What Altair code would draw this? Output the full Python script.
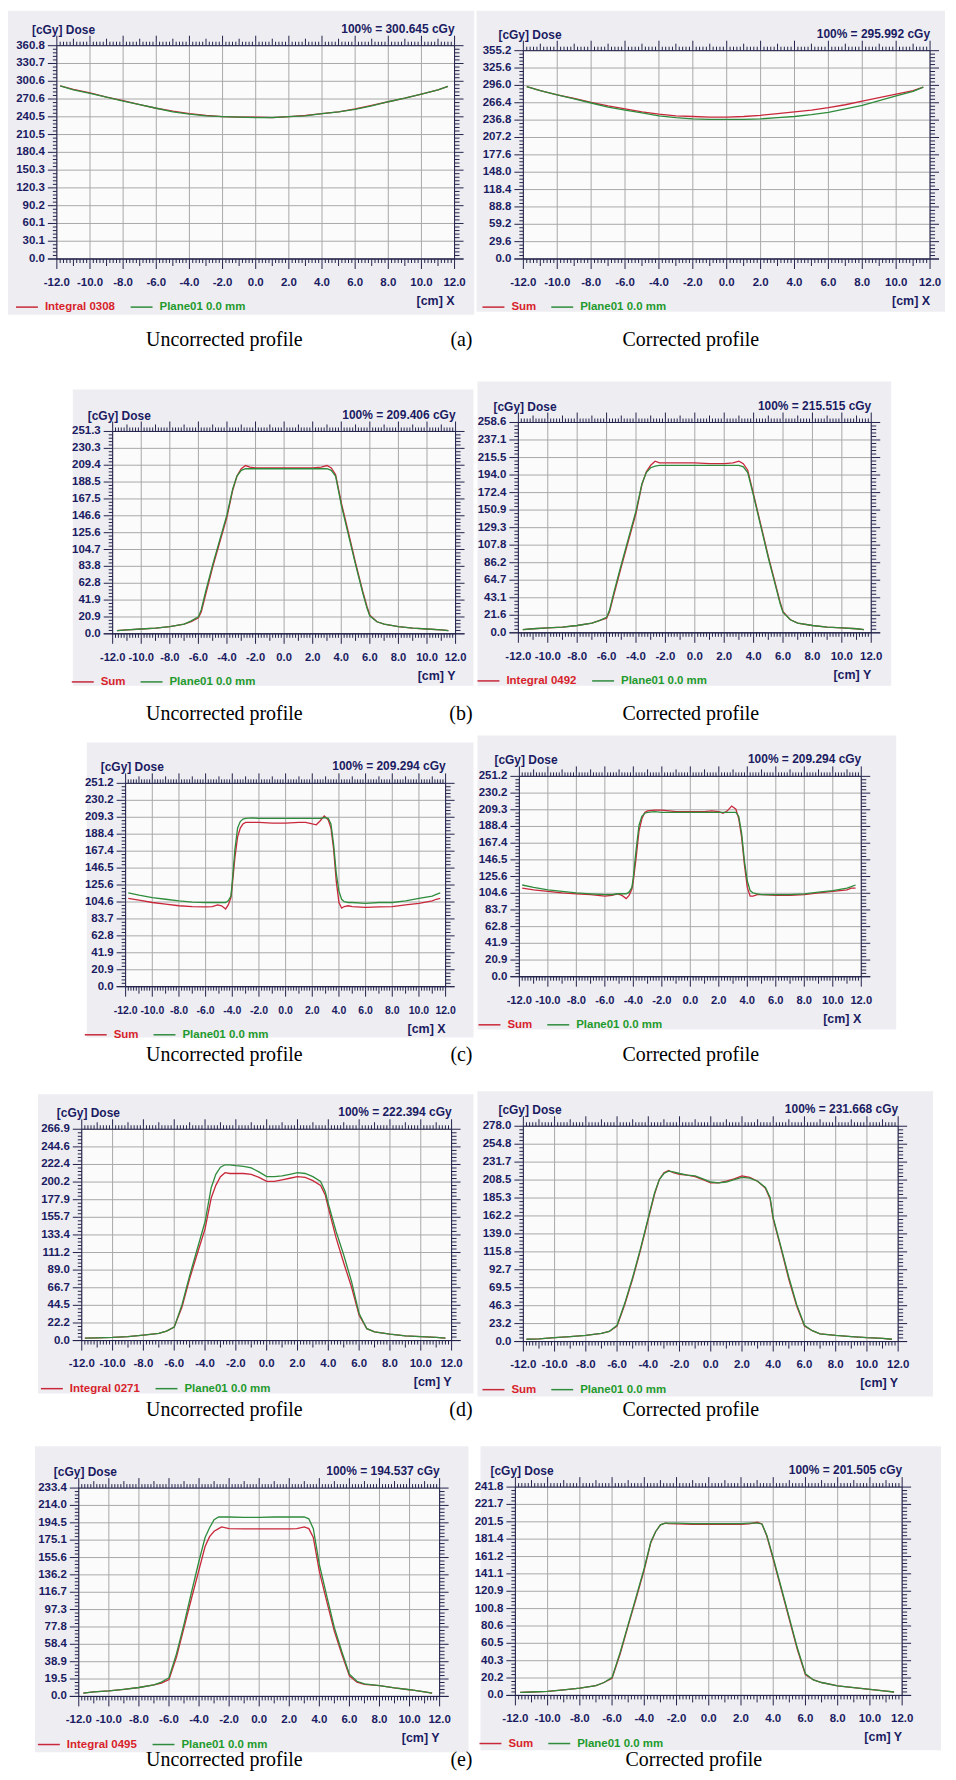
import altair as alt
import pandas as pd

# ------------------------------------------------------------------ data
x_major_ticks = [-12.0, -10.0, -8.0, -6.0, -4.0, -2.0, 0.0, 2.0, 4.0, 6.0, 8.0, 10.0, 12.0]
plane_series = "Plane01 0.0 mm"

# (a) beam X profile
a_x = [-11.8, -11, -10, -9, -8, -7, -6, -5, -4, -3, -2, -1, 0, 1, 2, 3, 4, 5, 6, 7, 8, 9, 10, 11, 11.6]
a_left_red = [293, 287, 281, 274, 268, 261, 255, 250, 246, 243, 241, 240, 240, 239, 241, 243, 246, 249, 254, 260, 266, 272, 279, 286, 292]
a_left_green = [293, 286, 280, 274, 267, 261, 255, 249, 245, 242, 241, 240, 239, 239, 241, 242, 246, 249, 253, 259, 266, 272, 279, 286, 292]
a_right_red = [294, 287, 280, 274, 267, 261, 256, 251, 247, 244, 243, 242, 242, 243, 245, 248, 251, 254, 258, 263, 269, 275, 281, 287, 293]
a_right_green = [294, 287, 280, 273, 266, 259, 254, 249, 244, 241, 239, 238, 238, 238, 239, 241, 243, 246, 250, 256, 262, 270, 278, 286, 293]
a_left_yticks = [0.0, 30.1, 60.1, 90.2, 120.3, 150.3, 180.4, 210.5, 240.5, 270.6, 300.6, 330.7, 360.8]
a_right_yticks = [0.0, 29.6, 59.2, 88.8, 118.4, 148.0, 177.6, 207.2, 236.8, 266.4, 296.0, 325.6, 355.2]

# (b)
b_x = [-11.7, -11, -10, -9, -8, -7, -6.5, -6, -5.8, -5.5, -5, -4.5, -4, -3.6, -3.3, -3.0, -2.7, -2.4, -2, -1,
       0, 1, 2, 2.6, 3.0, 3.3, 3.6, 4, 4.5, 5, 5.5, 5.8, 6, 6.5, 7, 8, 9, 10, 11, 11.5]
b_left_red = [4, 5, 6, 7, 9, 12, 15, 20, 27, 48, 83, 114, 145, 178, 196, 205, 209, 207, 206, 206,
              206, 206, 206, 207, 209, 206, 198, 163, 126, 88, 53, 34, 23, 15, 12, 9, 7, 6, 5, 4]
b_left_green = [4, 5, 6, 7, 9, 12, 16, 21, 30, 52, 86, 117, 148, 180, 196, 203, 205, 205, 205, 205,
                205, 205, 205, 205, 205, 203, 196, 160, 123, 86, 51, 32, 22, 15, 12, 9, 7, 6, 5, 4]
b_right_red = [4, 5, 6, 7, 9, 12, 15, 18, 26, 47, 81, 114, 147, 182, 198, 206, 211, 209, 209, 209,
               209, 208, 208, 209, 211, 208, 200, 170, 132, 94, 59, 38, 26, 16, 12, 9, 7, 6, 5, 4]
b_right_green = [4, 5, 6, 7, 9, 12, 15, 19, 28, 50, 84, 117, 150, 183, 197, 203, 205, 206, 206, 206,
                 206, 206, 206, 206, 206, 204, 197, 168, 130, 92, 57, 36, 25, 16, 12, 9, 7, 6, 5, 4]
b_left_yticks = [0.0, 20.9, 41.9, 62.8, 83.8, 104.7, 125.6, 146.6, 167.5, 188.5, 209.4, 230.3, 251.3]
b_right_yticks = [0.0, 21.6, 43.1, 64.7, 86.2, 107.8, 129.3, 150.9, 172.4, 194.0, 215.5, 237.1, 258.6]

# (c)
c_x = [-11.8, -11, -10, -9, -8, -7, -6, -5.5, -5.1, -4.8, -4.5, -4.3, -4.1, -4.0, -3.8, -3.6, -3.4, -3.2, -3.0, -2.5,
       -2, -1, 0, 1, 1.5, 2.0, 2.3, 2.6, 2.9, 3.2, 3.4, 3.6, 3.8, 4.0, 4.2, 4.4, 4.7, 5, 6, 7,
       8, 9, 10, 11, 11.3, 11.6]
c_left_red = [109, 107, 104, 102, 100, 99, 98.5, 99, 101, 100, 96, 101, 110, 125, 160, 185, 196, 201, 203, 203,
              203, 202, 202, 203, 203, 201, 200, 205, 211, 206, 196, 170, 130, 104, 97, 99, 100, 99, 98, 98.5,
              99, 101, 103, 106, 108, 109]
c_left_green = [116, 113, 110, 108, 106, 104.5, 104, 104, 104, 104, 104, 106, 112, 130, 170, 196, 204, 207, 208, 208.5,
                208, 208, 208, 208, 208, 208, 208, 208, 209, 208, 201, 176, 140, 118, 108, 105, 104, 104, 103, 104,
                104, 106, 109, 112, 114, 116]
c_right_red = [111, 109, 107, 105, 104, 103, 101, 102, 104, 102, 98, 102, 110, 120, 150, 183, 198, 206, 208, 209,
               209, 207, 207, 207, 208, 207, 205, 208, 214, 210, 198, 175, 140, 112, 101, 101, 103, 103, 102, 102,
               103, 105, 107, 109, 111, 111]
c_right_green = [115, 112, 109, 107, 105, 104, 103, 103, 104, 104, 104, 106, 112, 125, 160, 190, 201, 205, 206, 207,
                 206, 206, 206, 206, 206, 206, 206, 206, 206, 206, 201, 180, 145, 120, 108, 105, 104, 103, 103, 103,
                 104, 106, 108, 111, 113, 115]
c_yticks = [0.0, 20.9, 41.9, 62.8, 83.7, 104.6, 125.6, 146.5, 167.4, 188.4, 209.3, 230.2, 251.2]

# (d)
d_x = [-11.8, -11, -10, -9, -8, -7, -6.5, -6, -5.5, -5, -4.5, -4, -3.6, -3.3, -3.0, -2.7, -2.4, -2, -1.5, -1,
       -0.5, 0, 0.5, 1, 1.5, 2, 2.5, 3, 3.5, 3.8, 4, 4.5, 5, 5.5, 6, 6.5, 7, 8, 9, 10, 11, 11.6]
d_left_red = [3, 3.5, 4, 5, 7, 9, 12, 17, 42, 78, 110, 141, 180, 196, 207, 212, 211, 211, 211, 210,
              206, 201, 201, 203, 205, 207, 206, 202, 196, 184, 168, 130, 98, 68, 32, 15, 11, 8, 6, 5, 4, 3]
d_left_green = [3, 3.5, 4, 5, 7, 9, 12, 17, 45, 82, 116, 150, 193, 210, 219, 222, 222, 221, 220, 218,
                213, 207, 207, 208, 210, 212, 211, 207, 201, 188, 173, 138, 108, 75, 34, 15, 11, 8, 6, 5, 4, 3]
d_right_red = [3, 3.5, 5, 6.5, 8, 10.5, 13, 20, 48, 81, 118, 158, 190, 209, 218, 221, 218, 216, 215, 213,
               209, 205, 205, 207, 210, 214, 212, 207, 198, 184, 158, 120, 80, 46, 20, 14, 10, 8, 6.5, 5, 4, 3]
d_right_green = [3, 3.5, 5, 6.5, 8, 10.5, 13, 21, 50, 83, 120, 160, 192, 209, 217, 220, 219, 217, 215, 214,
                 210, 206, 205, 206, 209, 212, 211, 207, 199, 186, 160, 122, 83, 48, 21, 14, 10, 8, 6.5, 5, 4, 3]
d_left_yticks = [0.0, 22.2, 44.5, 66.7, 89.0, 111.2, 133.4, 155.7, 177.9, 200.2, 222.4, 244.6, 266.9]
d_right_yticks = [0.0, 23.2, 46.3, 69.5, 92.7, 115.8, 139.0, 162.2, 185.3, 208.5, 231.7, 254.8, 278.0]

# (e)
e_x = [-11.7, -11, -10, -9, -8, -7, -6.5, -6, -5.5, -5, -4.5, -4, -3.6, -3.3, -3.0, -2.7, -2.5, -2, -1, 0,
       1, 2, 2.5, 3.0, 3.3, 3.6, 4, 4.5, 5, 5.5, 6, 6.5, 7, 8, 9, 10, 11, 11.5]
e_left_red = [3.7, 5, 6.3, 8, 10, 13, 15, 19, 44, 77, 110, 142, 168, 179, 185, 188, 190, 188, 187.6, 187.6,
              187.6, 187.6, 188, 190, 188, 178, 140, 106, 73, 47, 23, 16, 13.5, 12, 9.5, 7.5, 5, 3.7]
e_left_green = [3.7, 5, 6.3, 8, 10, 13, 16, 21, 48, 81, 117, 152, 178, 189, 198, 201, 201, 201, 200.5, 200.5,
                201, 201, 201, 201, 199, 188, 148, 112, 77, 50, 25, 17, 14, 12, 9.5, 7.5, 5, 3.7]
e_right_red = [3.5, 4, 4.6, 6.5, 8.5, 11.5, 15, 20, 48, 81, 113, 146, 177, 190, 198, 200, 199.5, 199, 198.5, 198.5,
               198.5, 198.5, 199, 201, 199, 185, 158, 123, 88, 53, 24, 18, 15, 11, 9, 7, 5, 4]
e_right_green = [3.5, 4, 4.6, 6.5, 8.5, 11.5, 15, 21, 50, 82.5, 115, 148, 178, 190, 198, 200, 200, 200, 199.5, 199.5,
                 199.5, 199.5, 200, 200, 199, 186, 160, 125, 90, 55, 25, 18, 15, 11, 9, 7, 5, 4]
e_left_yticks = [0.0, 19.5, 38.9, 58.4, 77.8, 97.3, 116.7, 136.2, 155.6, 175.1, 194.5, 214.0, 233.4]
e_right_yticks = [0.0, 20.2, 40.3, 60.5, 80.6, 100.8, 120.9, 141.1, 161.2, 181.4, 201.5, 221.7, 241.8]

# ------------------------------------------------------------------ style
FONT = "Liberation Sans, Arial, sans-serif"
SERIF = "Liberation Serif, Times New Roman, serif"
NAVY = "#1b1b62"
BORDER = "#22224a"
RED = "#c8283a"
GREEN = "#2f8c3c"
RED_TXT = "#d81f2c"
GREEN_TXT = "#1f9a2d"
GRID = "#a9a9a9"
PANEL_BG = "#eeeef2"
PLOT_BG = "#fbfbfc"

# layout in page pixels (left, top, right, bottom)
COLS = [(8, 476), (476, 948)]
ROWS = [(8, 355), (355, 725), (725, 1068), (1068, 1425), (1425, 1772)]
CAP_Y = [338, 713, 1056, 1412, 1763]

panels = [
    dict(x=a_x, red=a_left_red, green=a_left_green, s1="Integral 0308", yt=a_left_yticks, ref="100% = 300.645 cGy",
         ax="X", plot=(57, 43, 456, 257), bg=(3, 3, 477, 313)),
    dict(x=a_x, red=a_right_red, green=a_right_green, s1="Sum", yt=a_right_yticks, ref="100% = 295.992 cGy",
         ax="X", plot=(525, 48, 933, 257), bg=(478, 8, 956, 310)),
    dict(x=b_x, red=b_left_red, green=b_left_green, s1="Sum", yt=b_left_yticks, ref="100% = 209.406 cGy",
         ax="Y", plot=(113, 430, 457, 633), bg=(73, 388, 475, 685)),
    dict(x=b_x, red=b_right_red, green=b_right_green, s1="Integral 0492", yt=b_right_yticks, ref="100% = 215.515 cGy",
         ax="Y", plot=(520, 421, 874, 632), bg=(479, 380, 894, 685)),
    dict(x=c_x, red=c_left_red, green=c_left_green, s1="Sum", yt=c_yticks, ref="100% = 209.294 cGy",
         ax="X", plot=(126, 783, 447, 987), bg=(87, 742, 475, 1038)),
    dict(x=c_x, red=c_right_red, green=c_right_green, s1="Sum", yt=c_yticks, ref="100% = 209.294 cGy",
         ax="X", plot=(521, 776, 864, 977), bg=(479, 735, 899, 1030)),
    dict(x=d_x, red=d_left_red, green=d_left_green, s1="Integral 0271", yt=d_left_yticks, ref="100% = 222.394 cGy",
         ax="Y", plot=(82, 1130, 453, 1342), bg=(38, 1095, 475, 1395)),
    dict(x=d_x, red=d_right_red, green=d_right_green, s1="Sum", yt=d_right_yticks, ref="100% = 231.668 cGy",
         ax="Y", plot=(525, 1127, 901, 1343), bg=(479, 1092, 936, 1398)),
    dict(x=e_x, red=e_left_red, green=e_left_green, s1="Integral 0495", yt=e_left_yticks, ref="100% = 194.537 cGy",
         ax="Y", plot=(79, 1490, 441, 1699), bg=(35, 1448, 470, 1755)),
    dict(x=e_x, red=e_right_red, green=e_right_green, s1="Sum", yt=e_right_yticks, ref="100% = 201.505 cGy",
         ax="Y", plot=(514, 1489, 902, 1698), bg=(479, 1448, 941, 1753)),
]
row_letters = ["(a)", "(b)", "(c)", "(d)", "(e)"]

ONE = pd.DataFrame({"k": [0]})


def make_panel(p, row, col):
    cl, cr = COLS[col]
    ct, cb = ROWS[row]
    VW, VH = cr - cl, cb - ct
    pl, pt, pr, pb = p["plot"]
    X0, X1, Y0, Y1 = pl - cl, pr - cl, pt - ct, pb - ct
    bl, bt, br, bb = p["bg"]
    bl, bt, br, bb = max(bl, cl) - cl, max(bt, ct) - ct, min(br, cr) - cl, min(bb, cb) - ct
    yt = p["yt"]
    xs = alt.Scale(domain=[-12, 12], range=[X0, X1], nice=False, zero=False)
    ys = alt.Scale(domain=[0, yt[-1]], range=[Y1, Y0], nice=False, zero=False)
    xfs = min(11.5, round((X1 - X0) / 12 / 2.55, 1))   # x label size that fits between ticks

    def box(x1, x2, y1, y2, **mk):
        return alt.Chart(ONE).mark_rect(**mk).encode(
            x=alt.value(x1), x2=alt.value(x2), y=alt.value(y1), y2=alt.value(y2))

    def text(t, x, y, align="left", size=11.5, color=NAVY, font=FONT, weight="bold"):
        return alt.Chart(ONE).mark_text(text=t, align=align, baseline="middle", font=font, fontSize=size,
                                        fontWeight=weight, color=color).encode(x=alt.value(x), y=alt.value(y))

    # tick tables (x every 0.2 cm, y every 2 % of the reference dose)
    xk = [round(-12 + 0.2 * k, 1) for k in range(121)]
    xkind = ["major" if k % 10 == 0 else ("mid" if k % 5 == 0 else "minor") for k in range(121)]
    xt = pd.DataFrame({"xv": xk, "kind": xkind})
    xlab = pd.DataFrame({"xv": x_major_ticks, "lab": [f"{v:.1f}" for v in x_major_ticks]})
    yv, ykind = [], []
    for i in range(len(yt) - 1):
        for j in range(5):
            yv.append(yt[i] + (yt[i + 1] - yt[i]) * j / 5)
            ykind.append("major" if j == 0 else "minor")
    yv.append(yt[-1]); ykind.append("major")
    ytd = pd.DataFrame({"yv": yv, "kind": ykind})
    ylab = pd.DataFrame({"yv": yt, "lab": [f"{v:.1f}" for v in yt]})

    XE = alt.X("xv:Q", scale=xs, axis=None)
    YE = alt.Y("yv:Q", scale=ys, axis=None)

    layers = [
        box(0, VW, 0, VH, fill="white", strokeWidth=0),
        box(bl, br, bt, bb, fill=PANEL_BG, strokeWidth=0),
        box(X0, X1, Y0, Y1, fill=PLOT_BG, strokeWidth=0),
        alt.Chart(xt).transform_filter("datum.kind == 'major'").mark_rule(color=GRID, strokeWidth=1).encode(
            x=XE, y=alt.value(Y0), y2=alt.value(Y1)),
        alt.Chart(ytd).transform_filter("datum.kind == 'major'").mark_rule(color=GRID, strokeWidth=1).encode(
            y=YE, x=alt.value(X0), x2=alt.value(X1)),
    ]

    def xrule(kind, y1, y2):
        return alt.Chart(xt).transform_filter(f"datum.kind == '{kind}'").mark_rule(color=BORDER, strokeWidth=1).encode(
            x=XE, y=alt.value(y1), y2=alt.value(y2))

    def yrule(kind, x1, x2):
        return alt.Chart(ytd).transform_filter(f"datum.kind == '{kind}'").mark_rule(color=BORDER, strokeWidth=1).encode(
            y=YE, x=alt.value(x1), x2=alt.value(x2))

    layers += [
        xrule("major", Y1, Y1 + 10), xrule("mid", Y1, Y1 + 7), xrule("minor", Y1, Y1 + 4),
        xrule("major", Y0, Y0 - 10), xrule("mid", Y0, Y0 - 7), xrule("minor", Y0, Y0 - 4),
        yrule("major", X0 - 9, X0), yrule("minor", X0 - 4, X0),
        yrule("major", X1, X1 + 9), yrule("minor", X1, X1 + 5),
        alt.Chart(ONE).mark_rule(color=BORDER, strokeWidth=1).encode(
            x=alt.value(X0 - 9), x2=alt.value(X1 + 9), y=alt.value(Y1)),
        alt.Chart(xlab).mark_text(align="center", baseline="middle", font=FONT, fontSize=xfs,
                                  fontWeight="bold", color=NAVY).encode(x=XE, y=alt.value(Y1 + 24), text="lab:N"),
        alt.Chart(ylab).mark_text(align="right", baseline="middle", font=FONT, fontSize=11.5,
                                  fontWeight="bold", color=NAVY).encode(y=YE, x=alt.value(X0 - 12), text="lab:N"),
    ]

    n = len(p["x"])
    df = pd.DataFrame({"x": list(p["x"]) * 2, "dose": list(p["red"]) + list(p["green"]),
                       "series": [p["s1"]] * n + [plane_series] * n})
    legend = alt.Legend(title=None, orient="none", legendX=max(X0 - 42, 1), legendY=Y1 + 36,
                        direction="horizontal", symbolType="stroke", symbolSize=484, symbolStrokeWidth=1.5,
                        labelFont=FONT, labelFontSize=11.5, labelFontWeight="bold", labelOffset=6,
                        columnPadding=12, padding=0,
                        labelColor={"expr": f"datum.label == '{plane_series}' ? '{GREEN_TXT}' : '{RED_TXT}'"})
    layers.append(alt.Chart(df).mark_line(strokeWidth=1.3).encode(
        x=alt.X("x:Q", scale=xs, axis=None),
        y=alt.Y("dose:Q", scale=ys, axis=None),
        color=alt.Color("series:N", scale=alt.Scale(domain=[p["s1"], plane_series], range=[RED, GREEN]),
                        legend=legend),
    ))
    layers.append(box(X0, X1, Y0, Y1, fill="white", fillOpacity=0, stroke=BORDER, strokeWidth=1))

    layers += [
        text("[cGy] Dose", X0 - 25, Y0 - 16, size=12),
        text(p["ref"], X1, Y0 - 17, align="right", size=12),
        text("[cm] " + p["ax"], X1, Y1 + 42, align="right", size=12.5),
    ]
    cy = CAP_Y[row] - ct
    if col == 0:
        layers.append(text("Uncorrected profile", 225 - cl, cy, align="center", size=20, color="black",
                           font=SERIF, weight="normal"))
        layers.append(text(row_letters[row], 474 - cl, cy, align="right", size=20, color="black",
                           font=SERIF, weight="normal"))
    else:
        layers.append(text("Corrected profile", 693 - cl, cy, align="center", size=20, color="black",
                           font=SERIF, weight="normal"))

    return alt.layer(*layers).properties(width=VW, height=VH)


rows = []
for r in range(5):
    rows.append(alt.hconcat(make_panel(panels[2 * r], r, 0), make_panel(panels[2 * r + 1], r, 1), spacing=0)
                .resolve_scale(x="independent", y="independent", color="independent")
                .resolve_legend(color="independent"))

chart = (alt.vconcat(*rows, spacing=0, padding=0, background="white")
         .resolve_scale(x="independent", y="independent", color="independent")
         .resolve_legend(color="independent")
         .configure_view(strokeWidth=0))

chart.save("out.html", embed_options={"renderer": "svg", "actions": False})
